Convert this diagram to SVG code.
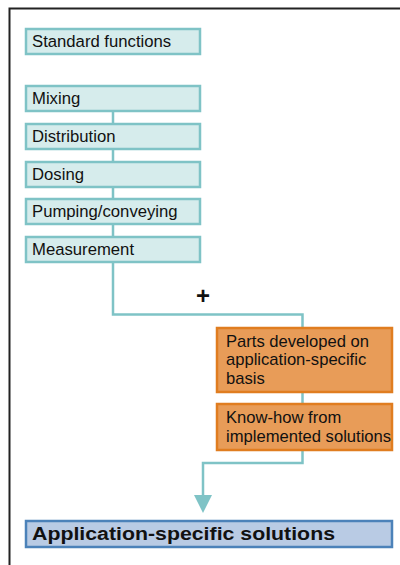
<svg xmlns="http://www.w3.org/2000/svg" width="400" height="565" viewBox="0 0 400 565">
<style>
.t{font-family:"Liberation Sans",Arial,sans-serif;font-size:16.7px;fill:#111}
.o{font-size:16.6px}
.std{fill:#d6ecec;stroke:#7fc3c6;stroke-width:2.5}
.org{fill:#e89c58;stroke:#e07d20;stroke-width:2.5}
.fin{fill:#b9cbe4;stroke:#4c82b9;stroke-width:2.5}
.c{fill:none;stroke:#7fc3c6;stroke-width:2.5}
.b{font-weight:bold;font-size:17.5px}
.p{font-weight:bold;font-size:24px}
</style>
<rect width="400" height="565" fill="#fff"/>
<path d="M9.5 565 V8.5 H400" fill="none" stroke="#222" stroke-width="2"/>
<g id="connectors">
<path class="c" d="M113 111 V314.5 H302.5 V328"/>
<path class="c" d="M302.5 392 V404"/>
<path class="c" d="M302.5 450 V463 H203 V497"/>
<polygon points="194,495 212,495 203,513" fill="#7fc3c6"/>
<text class="t p" x="203" y="304" text-anchor="middle">+</text>
</g>
<g id="standard-functions"><rect class="std" x="26" y="29" width="174" height="25"/><text class="t" x="32" y="47">Standard functions</text></g>
<g id="mixing"><rect class="std" x="26" y="86" width="174" height="25"/><text class="t" x="32" y="104">Mixing</text></g>
<g id="distribution"><rect class="std" x="26" y="124" width="174" height="25"/><text class="t" x="32" y="142">Distribution</text></g>
<g id="dosing"><rect class="std" x="26" y="162" width="174" height="25"/><text class="t" x="32" y="180">Dosing</text></g>
<g id="pumping"><rect class="std" x="26" y="199" width="174" height="25"/><text class="t" x="32" y="217">Pumping/conveying</text></g>
<g id="measurement"><rect class="std" x="26" y="237" width="174" height="25"/><text class="t" x="32" y="255">Measurement</text></g>
<g id="parts"><rect class="org" x="217" y="328" width="175" height="64"/><text class="t o" x="226" y="347">Parts developed on</text><text class="t o" x="226" y="365">application-specific</text><text class="t o" x="226" y="384">basis</text></g>
<g id="knowhow"><rect class="org" x="217" y="404" width="175" height="46"/><text class="t o" x="226" y="423">Know-how from</text><text class="t o" x="226" y="442">implemented solutions</text></g>
<g id="solutions"><rect class="fin" x="26" y="521" width="366" height="26"/><text class="t b" x="32" y="540" textLength="303" lengthAdjust="spacingAndGlyphs">Application-specific solutions</text></g>
</svg>
